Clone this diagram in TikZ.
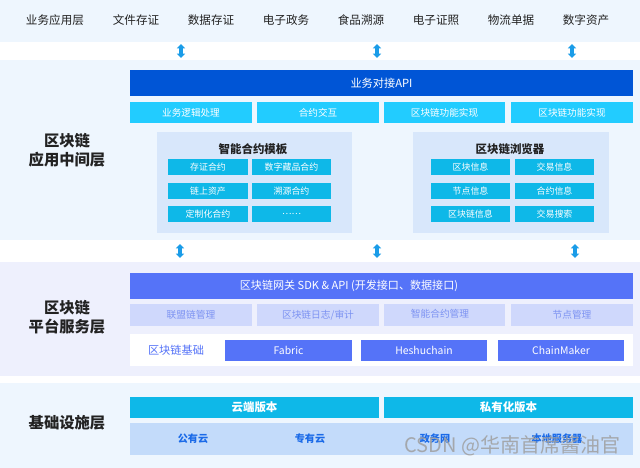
\documentclass[tikz,border=0pt]{standalone}
\usepackage{fontspec}
\setmainfont{Noto Sans CJK SC}
\usetikzlibrary{fit,arrows.meta}
\definecolor{bandA}{HTML}{EEF6FE}
\definecolor{bandB}{HTML}{EEF0FD}
\definecolor{apiblue}{HTML}{0055D6}
\definecolor{cyanA}{HTML}{22CCFF}
\definecolor{cyanB}{HTML}{0EB8E8}
\definecolor{panel}{HTML}{D8E7FB}
\definecolor{sdkblue}{HTML}{5573F8}
\definecolor{lavbox}{HTML}{CFD8FC}
\definecolor{lavtext}{HTML}{7D93F2}
\definecolor{cloudbox}{HTML}{C3DBFA}
\definecolor{cloudtext}{HTML}{1A6AE8}
\definecolor{arrowc}{HTML}{1A9CE8}
\definecolor{darktext}{HTML}{222222}
\begin{document}
\begin{tikzpicture}[x=0.75pt,y=-0.75pt,
  rect/.style={inner sep=0pt, outer sep=0pt, draw=none},
  toplbl/.style={text=darktext, font=\fontsize{8.7}{10}\selectfont},
  layerlbl/.style={text=darktext, align=center, font=\bfseries\fontsize{11.5}{14.5}\selectfont},
  wtext/.style={text=white, font=\fontsize{7.2}{9}\selectfont},
  smalltext/.style={text=white, font=\fontsize{6.7}{8}\selectfont},
  lavlbl/.style={text=lavtext, font=\fontsize{7.3}{9}\selectfont},
  chainlbl/.style={text=white, font=\fontsize{7.8}{9}\selectfont},
  verlbl/.style={text=white, font=\bfseries\fontsize{8.6}{10}\selectfont},
  cloudlbl/.style={text=cloudtext, font=\bfseries\fontsize{7.6}{9}\selectfont},
  ptitle/.style={text=darktext, font=\bfseries\fontsize{8.6}{10}\selectfont},
  dbl/.style={arrowc, line width=2.4pt, {Triangle[width=6pt,length=3.2pt]}-{Triangle[width=6pt,length=3.2pt]}}
]
\useasboundingbox (0,0) rectangle (640,468);
\fill[white] (0,0) rectangle (640,468);

% ---------- top band ----------
\node[rect, fill=bandA, fit={(0,0) (640,42)}] (topband) {};
\node[toplbl] (t1) at (55,20) {业务应用层};
\node[toplbl] (t2) at (136,20) {文件存证};
\node[toplbl] (t3) at (211,20) {数据存证};
\node[toplbl] (t4) at (286,20) {电子政务};
\node[toplbl] (t5) at (361,20) {食品溯源};
\node[toplbl] (t6) at (436,20) {电子证照};
\node[toplbl] (t7) at (511,20) {物流单据};
\node[toplbl] (t8) at (586,20) {数字资产};

% arrows 1
\coordinate (a1t) at (181,44); \coordinate (a1b) at (181,58);
\coordinate (a2t) at (377,44); \coordinate (a2b) at (377,58);
\coordinate (a3t) at (572,44); \coordinate (a3b) at (572,58);
\draw[dbl] (a1t) -- (a1b);
\draw[dbl] (a2t) -- (a2b);
\draw[dbl] (a3t) -- (a3b);

% ---------- middle layer ----------
\node[rect, fill=bandA, fit={(0,60) (640,240)}] (midband) {};
\node[layerlbl] (midlbl) at (67,150) {区块链\\应用中间层};
\node[rect, fill=apiblue, fit={(130,70) (633,96)}] (api) {};
\node[wtext, font=\fontsize{8.4}{10}\selectfont] (apil) at (api) {业务对接API};
\node[rect, fill=cyanA, fit={(130,102) (252,123)}] (s1) {};
\node[rect, fill=cyanA, fit={(257,102) (379,123)}] (s2) {};
\node[rect, fill=cyanA, fit={(384,102) (505,123)}] (s3) {};
\node[rect, fill=cyanA, fit={(511,102) (633,123)}] (s4) {};
\node[wtext] (s1l) at (s1) {业务逻辑处理};
\node[wtext] (s2l) at (s2) {合约交互};
\node[wtext] (s3l) at (s3) {区块链功能实现};
\node[wtext] (s4l) at (s4) {区块链功能实现};

% smart contract panel
\node[rect, fill=panel, fit={(157,132) (352,233)}] (scpanel) {};
\node[ptitle] (sctitle) at (253,149) {智能合约模板};
\node[rect, fill=cyanB, fit={(168,159) (248,175)}] (c11) {};
\node[rect, fill=cyanB, fit={(252,159) (331,175)}] (c12) {};
\node[rect, fill=cyanB, fit={(168,183) (248,199)}] (c21) {};
\node[rect, fill=cyanB, fit={(252,183) (331,199)}] (c22) {};
\node[rect, fill=cyanB, fit={(168,206) (248,222)}] (c31) {};
\node[rect, fill=cyanB, fit={(252,206) (331,222)}] (c32) {};
\node[smalltext] (c11l) at (c11) {存证合约};
\node[smalltext] (c12l) at (c12) {数字藏品合约};
\node[smalltext] (c21l) at (c21) {链上资产};
\node[smalltext] (c22l) at (c22) {溯源合约};
\node[smalltext] (c31l) at (c31) {定制化合约};
\node[smalltext] (c32l) at (c32) {……};

% browser panel
\node[rect, fill=panel, fit={(413,132) (609,233)}] (brpanel) {};
\node[ptitle] (brtitle) at (510,149) {区块链浏览器};
\node[rect, fill=cyanB, fit={(431,159) (510,175)}] (b11) {};
\node[rect, fill=cyanB, fit={(515,159) (594,175)}] (b12) {};
\node[rect, fill=cyanB, fit={(431,183) (510,199)}] (b21) {};
\node[rect, fill=cyanB, fit={(515,183) (594,199)}] (b22) {};
\node[rect, fill=cyanB, fit={(431,206) (510,222)}] (b31) {};
\node[rect, fill=cyanB, fit={(515,206) (594,222)}] (b32) {};
\node[smalltext] (b11l) at (b11) {区块信息};
\node[smalltext] (b12l) at (b12) {交易信息};
\node[smalltext] (b21l) at (b21) {节点信息};
\node[smalltext] (b22l) at (b22) {合约信息};
\node[smalltext] (b31l) at (b31) {区块链信息};
\node[smalltext] (b32l) at (b32) {交易搜索};

% arrows 2
\coordinate (d1t) at (180,244); \coordinate (d1b) at (180,258);
\coordinate (d2t) at (377,244); \coordinate (d2b) at (377,258);
\coordinate (d3t) at (575,244); \coordinate (d3b) at (575,258);
\draw[dbl] (d1t) -- (d1b);
\draw[dbl] (d2t) -- (d2b);
\draw[dbl] (d3t) -- (d3b);

% ---------- platform layer ----------
\node[rect, fill=bandB, fit={(0,262) (640,376)}] (platband) {};
\node[layerlbl] (platlbl) at (67,317) {区块链\\平台服务层};
\node[rect, fill=sdkblue, fit={(130,273) (633,299)}] (sdk) {};
\node[wtext, font=\fontsize{8.3}{10}\selectfont] (sdkl) at (349,286) {区块链网关 SDK \& API (开发接口、数据接口)};
\node[rect, fill=lavbox, fit={(130,304) (252,326)}] (p1) {};
\node[rect, fill=lavbox, fit={(257,304) (379,326)}] (p2) {};
\node[rect, fill=lavbox, fit={(384,304) (505,326)}] (p3) {};
\node[rect, fill=lavbox, fit={(511,304) (633,326)}] (p4) {};
\node[lavlbl] (p1l) at (p1) {联盟链管理};
\node[lavlbl] (p2l) at (p2) {区块链日志/审计};
\node[lavlbl] (p3l) at (440,314) {智能合约管理};
\node[lavlbl] (p4l) at (p4) {节点管理};
\node[rect, fill=white, fit={(130,334) (633,366)}] (basebox) {};
\node[text=sdkblue, font=\fontsize{8.4}{10}\selectfont] (baselbl) at (176,350) {区块链基础};
\node[rect, fill=sdkblue, fit={(225,340) (352,361)}] (fab) {};
\node[rect, fill=sdkblue, fit={(361,340) (487,361)}] (hes) {};
\node[rect, fill=sdkblue, fit={(498,340) (624,361)}] (cm) {};
\node[chainlbl] (fabl) at (fab) {Fabric};
\node[chainlbl] (hesl) at (hes) {Heshuchain};
\node[chainlbl] (cml) at (cm) {ChainMaker};

% ---------- infrastructure layer ----------
\node[rect, fill=bandA, fit={(0,383) (640,468)}] (infband) {};
\node[layerlbl] (inflbl) at (67,423) {基础设施层};
\node[rect, fill=cyanB, fit={(130,397) (379,418)}] (cloud) {};
\node[rect, fill=cyanB, fit={(384,397) (633,418)}] (priv) {};
\node[verlbl] (cloudl) at (cloud) {云端版本};
\node[verlbl] (privl) at (priv) {私有化版本};
\node[rect, fill=cloudbox, fit={(130,423) (633,455)}] (cbox) {};
\node[cloudlbl] (i1) at (193,439) {公有云};
\node[cloudlbl] (i2) at (310,439) {专有云};
\node[cloudlbl] (i3) at (435,439) {政务网};
\node[cloudlbl] (i4) at (557,439) {本地服务器};

% watermark
\node[text=gray!75, opacity=0.85, font=\fontsize{15}{17}\selectfont, anchor=east] (wm) at (625,446) {CSDN @华南首席酱油官};
\end{tikzpicture}
\end{document}
